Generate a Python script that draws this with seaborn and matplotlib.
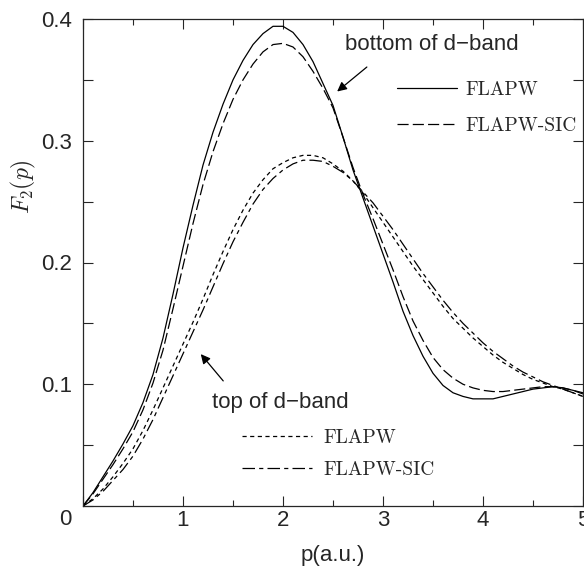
import numpy as np
import pandas as pd
import seaborn as sns
import matplotlib.pyplot as plt
from matplotlib.font_manager import FontProperties
from matplotlib.transforms import ScaledTranslation

sns.set_style('ticks')
plt.rcParams['font.family'] = ['Liberation Sans', 'DejaVu Sans']
plt.rcParams['mathtext.fontset'] = 'cm'
plt.rcParams['lines.scale_dashes'] = False

# momentum grid (a.u.)
p = [0.0, 0.1, 0.2, 0.3, 0.4, 0.5, 0.6, 0.7, 0.8, 0.9,
     1.0, 1.1, 1.2, 1.3, 1.4, 1.5, 1.6, 1.7, 1.8, 1.9,
     2.0, 2.1, 2.2, 2.3, 2.4, 2.5, 2.6, 2.7, 2.8, 2.9,
     3.0, 3.1, 3.2, 3.3, 3.4, 3.5, 3.6, 3.7, 3.8, 3.9,
     4.0, 4.1, 4.2, 4.3, 4.4, 4.5, 4.6, 4.7, 4.8, 4.9, 5.0]

# bottom of d-band
bot_flapw = [0.000, 0.011, 0.024, 0.037, 0.051, 0.066, 0.085, 0.108, 0.138, 0.174,
             0.212, 0.247, 0.280, 0.307, 0.330, 0.350, 0.366, 0.379, 0.388, 0.394,
             0.394, 0.389, 0.379, 0.365, 0.347, 0.329, 0.303, 0.276, 0.253, 0.230,
             0.207, 0.184, 0.160, 0.140, 0.123, 0.109, 0.099, 0.093, 0.090, 0.088,
             0.088, 0.088, 0.090, 0.092, 0.094, 0.096, 0.097, 0.098, 0.097, 0.095, 0.093]
bot_sic = [0.000, 0.010, 0.022, 0.034, 0.047, 0.061, 0.079, 0.101, 0.128, 0.162,
           0.197, 0.232, 0.264, 0.291, 0.314, 0.334, 0.350, 0.363, 0.373, 0.379,
           0.380, 0.377, 0.369, 0.357, 0.343, 0.327, 0.303, 0.278, 0.256, 0.236,
           0.215, 0.194, 0.172, 0.152, 0.136, 0.122, 0.112, 0.105, 0.100, 0.097,
           0.095, 0.094, 0.094, 0.095, 0.096, 0.097, 0.098, 0.098, 0.097, 0.095, 0.092]

# top of d-band
top_flapw = [0.000, 0.006, 0.014, 0.024, 0.035, 0.047, 0.062, 0.079, 0.097, 0.115,
             0.133, 0.151, 0.170, 0.190, 0.209, 0.227, 0.243, 0.257, 0.268, 0.277,
             0.282, 0.286, 0.288, 0.288, 0.286, 0.281, 0.275, 0.267, 0.257, 0.245,
             0.233, 0.221, 0.209, 0.197, 0.186, 0.175, 0.164, 0.154, 0.146, 0.138,
             0.131, 0.124, 0.118, 0.113, 0.108, 0.104, 0.101, 0.098, 0.096, 0.093, 0.090]
top_sic = [0.000, 0.005, 0.012, 0.021, 0.030, 0.041, 0.055, 0.071, 0.089, 0.107,
           0.125, 0.143, 0.161, 0.180, 0.199, 0.217, 0.233, 0.248, 0.260, 0.269,
           0.276, 0.281, 0.284, 0.284, 0.283, 0.279, 0.274, 0.267, 0.258, 0.249,
           0.238, 0.227, 0.215, 0.203, 0.191, 0.180, 0.169, 0.159, 0.150, 0.142,
           0.134, 0.127, 0.121, 0.115, 0.110, 0.106, 0.102, 0.099, 0.096, 0.093, 0.090]

series = [(bot_flapw, '-'), (bot_sic, (0, (8, 3))),
          (top_flapw, (0, (3, 2.5))), (top_sic, (0, (9, 3, 3, 3)))]

fig = plt.figure(figsize=(5.84, 5.70), dpi=100)
ax = fig.add_axes([83/584, 64/570, 500/584, 487/570])

for vals, ls in series:
    sns.lineplot(x=p, y=vals, ax=ax, color='black', linewidth=0.9,
                 linestyle=ls, errorbar=None, legend=False)
h = ax.lines

ax.set_xlim(0, 5)
ax.set_ylim(0, 0.4)
ax.set_xticks([0, 1, 2, 3, 4, 5])
ax.set_xticklabels(['', '1', '2', '3', '4', '5'])
ax.set_xticks(np.arange(0, 5.01, 0.5), minor=True)
ax.set_yticks([0, 0.1, 0.2, 0.3, 0.4])
ax.set_yticklabels(['0', '0.1', '0.2', '0.3', '0.4'])
ax.set_yticks(np.arange(0, 0.401, 0.05), minor=True)
ax.tick_params(which='both', direction='in', top=True, right=True,
               labelsize=16, width=0.8)
ax.tick_params(which='major', length=7)
ax.tick_params(axis='y', which='minor', length=7)
ax.tick_params(axis='x', which='minor', length=4)
ax.tick_params(axis='x', pad=3)
ax.tick_params(axis='y', pad=8)
for s in ax.spines.values():
    s.set_linewidth(0.9)

ax.set_xlabel('p(a.u.)', fontsize=16, labelpad=10)
ax.set_ylabel(r'$F_2(p)$', fontsize=17)
ax.yaxis.set_label_coords(-0.09, 0.655)

ax.annotate('', xy=(2.52, 0.339), xytext=(2.86, 0.362),
            arrowprops=dict(arrowstyle='-|>', color='black', lw=0.9, mutation_scale=14))
ax.text(2.62, 0.379, 'bottom of d\u2212band', fontsize=16, ha='left', va='center')
ax.annotate('', xy=(1.16, 0.1265), xytext=(1.42, 0.101),
            arrowprops=dict(arrowstyle='-|>', color='black', lw=0.9, mutation_scale=14))
ax.text(1.29, 0.0854, 'top of d\u2212band', fontsize=16, ha='left', va='center')

cm_font = FontProperties(family='cmr10', size=14)
leg1 = ax.legend([h[0], h[1]], ['FLAPW', 'FLAPW-SIC'], loc='center left',
                 bbox_to_anchor=(3.14, 0.327), bbox_transform=ax.transData,
                 frameon=False, prop=cm_font, handlelength=3.1, handletextpad=0.4,
                 labelspacing=0.95, borderpad=0, borderaxespad=0)
ax.add_artist(leg1)
leg2 = ax.legend([h[2], h[3]], ['FLAPW', 'FLAPW-SIC'], loc='center left',
                 bbox_to_anchor=(1.59, 0.0428), bbox_transform=ax.transData,
                 frameon=False, prop=cm_font, handlelength=3.6, handletextpad=0.6,
                 labelspacing=0.7, borderpad=0, borderaxespad=0)

# the shared origin label sits a little below the axis
lab0 = ax.yaxis.get_major_ticks()[0].label1
lab0.set_transform(lab0.get_transform() + ScaledTranslation(0, -11/100, fig.dpi_scale_trans))

fig.savefig('out.png', dpi=100)
